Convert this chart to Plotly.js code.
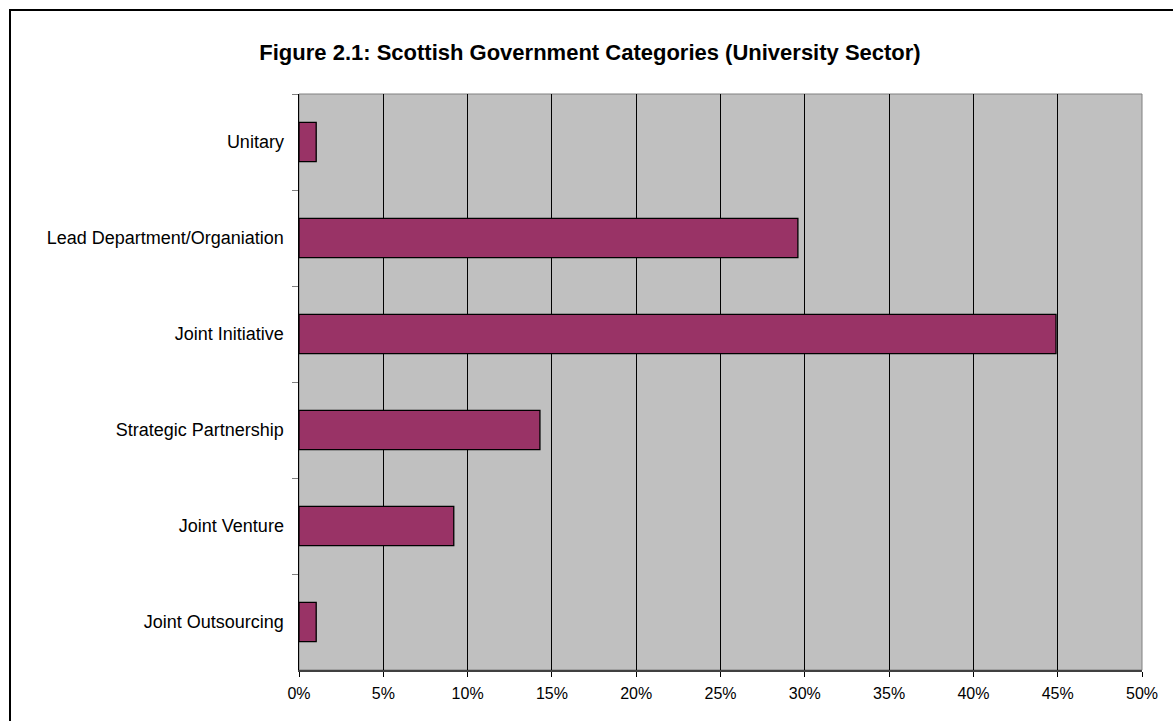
<!DOCTYPE html>
<html>
<head>
<meta charset="utf-8">
<script src="https://cdn.plot.ly/plotly-3.0.1.min.js"></script>
<style>
  html, body { margin: 0; padding: 0; background: #ffffff; }
  #chart { width: 1173px; height: 721px; position: relative; }
  #frame { position: absolute; left: 9px; top: 9px; width: 1200px; height: 800px;
           border: 2px solid #000; pointer-events: none; box-sizing: border-box; }
</style>
</head>
<body>
<div id="chart"></div>
<div id="frame"></div>
<script>
const titleText = "Figure 2.1: Scottish Government Categories (University Sector)";
const categories = ["Unitary", "Lead Department/Organiation", "Joint Initiative",
                    "Strategic Partnership", "Joint Venture", "Joint Outsourcing"];
const shares = [1.02, 29.59, 44.90, 14.29, 9.18, 1.02];
const xTicks = [0, 5, 10, 15, 20, 25, 30, 35, 40, 45, 50];
const xTickLabels = ["0%", "5%", "10%", "15%", "20%", "25%", "30%", "35%", "40%", "45%", "50%"];

const trace = {
  type: "bar",
  orientation: "h",
  x: shares,
  y: categories,
  marker: { color: "#993366", line: { color: "#000000", width: 1.3 } },
  hoverinfo: "x+y"
};

const layout = {
  width: 1173,
  height: 721,
  paper_bgcolor: "#ffffff",
  plot_bgcolor: "#c0c0c0",
  font: { family: "Liberation Sans, Arial, sans-serif", color: "#000000" },
  margin: { l: 299, r: 31, t: 94, b: 51, pad: 0 },
  bargap: 0.59,
  showlegend: false,
  title: {
    text: "<b>" + titleText + "</b>",
    font: { size: 22, family: "Liberation Sans, Arial, sans-serif", color: "#000000" },
    x: 0.503, xref: "container", xanchor: "center",
    y: 0.928, yref: "container", yanchor: "middle"
  },
  xaxis: {
    range: [0, 50],
    tickvals: xTicks,
    ticktext: xTickLabels,
    ticks: "outside",
    ticklen: 5,
    tickwidth: 1,
    tickcolor: "#000000",
    ticklabelstandoff: 3,
    tickfont: { size: 16 },
    showgrid: true,
    gridcolor: "#000000",
    gridwidth: 1,
    zeroline: false,
    showline: true,
    linecolor: "#404040",
    linewidth: 2,
    fixedrange: true
  },
  yaxis: {
    type: "category",
    categoryorder: "array",
    categoryarray: categories,
    autorange: "reversed",
    ticks: "outside",
    tickson: "boundaries",
    ticklen: 6,
    tickcolor: "#808080",
    tickwidth: 1,
    ticklabelstandoff: 10,
    tickfont: { size: 18 },
    showgrid: false,
    zeroline: false,
    showline: true,
    linecolor: "#000000",
    linewidth: 1.5,
    fixedrange: true
  },
  shapes: [{
    type: "rect", xref: "paper", yref: "paper",
    x0: 0, x1: 1, y0: 0, y1: 1,
    line: { color: "#808080", width: 1 },
    layer: "below"
  }]
};

Plotly.newPlot("chart", [trace], layout, { displayModeBar: false, staticPlot: true });
</script>
</body>
</html>
